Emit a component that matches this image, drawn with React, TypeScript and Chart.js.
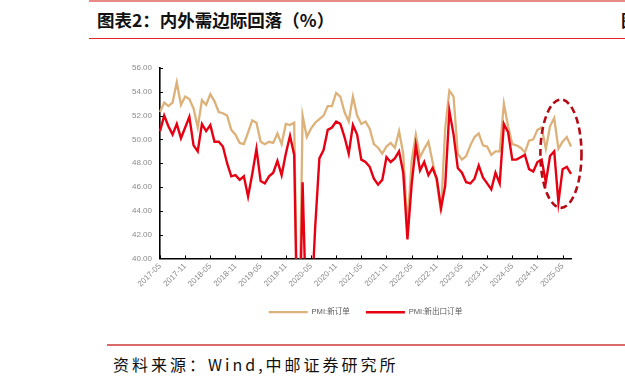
import React, { useEffect, useRef } from "react";
import { Chart, registerables } from "chart.js";

Chart.register(...registerables);

// Categories: monthly, 2017-05 .. 2025-07
const START_YEAR = 2017;
const START_MONTH = 5;
const MONTH_COUNT = 99;
const months: string[] = Array.from({ length: MONTH_COUNT }, (_, i) => {
  const m0 = START_MONTH - 1 + i;
  const y = START_YEAR + Math.floor(m0 / 12);
  const m = (m0 % 12) + 1;
  return `${y}-${m < 10 ? "0" + m : m}`;
});

// PMI: 新订单
const newOrders2017 = [52.3, 53.1, 52.8, 53.1, 54.8, 52.9, 53.6, 53.4];
const newOrders2018 = [52.6, 51.0, 53.3, 52.9, 53.8, 53.2, 52.3, 52.2, 52.0, 50.8, 50.4, 49.7];
const newOrders2019 = [49.6, 50.6, 51.6, 51.4, 49.8, 49.6, 49.8, 49.7, 50.5, 49.6, 51.3, 51.2];
const newOrders2020 = [51.4, 29.3, 52.0, 50.2, 50.9, 51.4, 51.7, 52.0, 52.8, 52.8, 53.9, 53.6];
const newOrders2021 = [52.3, 51.5, 53.6, 52.0, 51.3, 51.5, 50.9, 49.6, 49.3, 48.8, 49.4, 49.7];
const newOrders2022 = [49.3, 50.7, 48.8, 42.6, 48.2, 50.4, 48.5, 49.2, 49.8, 48.1, 46.4, 43.9];
const newOrders2023 = [50.9, 54.1, 53.6, 48.8, 48.3, 48.6, 49.5, 50.2, 50.5, 49.5, 49.4, 48.7];
const newOrders2024 = [49.0, 49.0, 53.0, 51.1, 49.6, 49.5, 49.3, 48.9, 49.9, 50.0, 50.8, 51.0];
const newOrders2025 = [49.2, 51.1, 51.8, 49.2, 49.8, 50.2, 49.4];

// PMI: 新出口订单
const exportOrders2017 = [50.7, 52.0, 51.1, 50.4, 51.3, 50.1, 51.0, 51.9];
const exportOrders2018 = [49.5, 49.0, 51.3, 50.7, 51.2, 49.8, 49.8, 49.4, 48.0, 46.9, 47.0, 46.6];
const exportOrders2019 = [46.9, 45.2, 47.1, 49.2, 46.5, 46.3, 46.9, 47.2, 48.2, 47.0, 48.8, 50.3];
const exportOrders2020 = [48.7, 28.7, 46.4, 33.5, 35.3, 42.6, 48.4, 49.1, 50.8, 51.0, 51.5, 51.3];
const exportOrders2021 = [50.2, 48.8, 51.2, 50.4, 48.3, 48.1, 47.7, 46.7, 46.2, 46.6, 48.5, 48.1];
const exportOrders2022 = [48.4, 49.0, 47.2, 41.6, 46.2, 49.5, 47.4, 48.1, 47.0, 47.6, 46.7, 44.2];
const exportOrders2023 = [46.1, 52.4, 50.4, 47.6, 47.2, 46.4, 46.3, 46.7, 47.8, 46.8, 46.3, 45.8];
const exportOrders2024 = [47.2, 46.3, 51.3, 50.6, 48.3, 48.3, 48.5, 48.7, 47.5, 47.3, 48.1, 48.3];
const exportOrders2025 = [46.4, 48.6, 49.0, 44.7, 47.5, 47.7, 47.1];

const newOrders = [
  ...newOrders2017, ...newOrders2018, ...newOrders2019, ...newOrders2020, ...newOrders2021,
  ...newOrders2022, ...newOrders2023, ...newOrders2024, ...newOrders2025,
];
const exportOrders = [
  ...exportOrders2017, ...exportOrders2018, ...exportOrders2019, ...exportOrders2020, ...exportOrders2021,
  ...exportOrders2022, ...exportOrders2023, ...exportOrders2024, ...exportOrders2025,
];

const SERIES_NAMES = ["PMI:新订单", "PMI:新出口订单"];
const Y_MIN = 40;
const Y_MAX = 56;
const Y_STEP = 2;
const LABEL_EVERY = 6;

// Highlight ellipse (in data units: category index / value)
const ELLIPSE_CENTER_INDEX = 95.6;
const ELLIPSE_HALF_MONTHS = 4.9;
const ELLIPSE_CENTER_VALUE = 48.8;
const ELLIPSE_HALF_VALUE = 4.55;

const TAN = "#DDB27A";
const RED = "#E60012";
const TICK_FONT = '"Liberation Sans", "Noto Sans CJK SC", sans-serif';

const decorPlugin = {
  id: "decor",
  afterDraw(chart: any) {
    const { ctx, chartArea } = chart;
    const xs = chart.scales.x;
    const ys = chart.scales.y;
    ctx.save();
    ctx.strokeStyle = "#000";
    ctx.lineWidth = 1;
    for (let i = 0; i < months.length; i += LABEL_EVERY) {
      const x = Math.round(xs.getPixelForValue(i)) + 0.5;
      ctx.beginPath();
      ctx.moveTo(x, chartArea.bottom);
      ctx.lineTo(x, chartArea.bottom - 3);
      ctx.stroke();
    }
    ys.ticks.forEach((t: any) => {
      const y = Math.round(ys.getPixelForValue(t.value)) + 0.5;
      ctx.beginPath();
      ctx.moveTo(chartArea.left, y);
      ctx.lineTo(chartArea.left + 3, y);
      ctx.stroke();
    });
    // dashed highlight ellipse
    const cx = xs.getPixelForValue(ELLIPSE_CENTER_INDEX);
    const rx = xs.getPixelForValue(ELLIPSE_CENTER_INDEX + ELLIPSE_HALF_MONTHS) - cx;
    const cy = ys.getPixelForValue(ELLIPSE_CENTER_VALUE);
    const ry = cy - ys.getPixelForValue(ELLIPSE_CENTER_VALUE + ELLIPSE_HALF_VALUE);
    ctx.strokeStyle = "#B40A14";
    ctx.lineWidth = 2.6;
    ctx.setLineDash([7, 4]);
    ctx.beginPath();
    ctx.ellipse(cx, cy, rx, ry, 0, 0, Math.PI * 2);
    ctx.stroke();
    ctx.restore();
  },
};

export default function App() {
  const ref = useRef<HTMLCanvasElement>(null);
  useEffect(() => {
    const chart = new Chart(ref.current as HTMLCanvasElement, {
      type: "line",
      data: {
        labels: months,
        datasets: [
          {
            label: SERIES_NAMES[0],
            data: newOrders,
            borderColor: TAN,
            backgroundColor: TAN,
            borderWidth: 2.3,
            pointRadius: 0,
            tension: 0,
            order: 1,
          },
          {
            label: SERIES_NAMES[1],
            data: exportOrders,
            borderColor: RED,
            backgroundColor: RED,
            borderWidth: 2.4,
            pointRadius: 0,
            tension: 0,
            order: 0,
          },
        ],
      },
      options: {
        responsive: false,
        animation: false,
        devicePixelRatio: 1,
        layout: { padding: { left: 0, right: 54, top: 23, bottom: 14 } },
        scales: {
          x: {
            type: "category",
            ticks: {
              autoSkip: false,
              maxRotation: 45,
              minRotation: 45,
              color: "#8a8a8a",
              font: { size: 8, family: TICK_FONT },
              padding: 3,
              callback: (_v: any, i: number) => (i % LABEL_EVERY === 0 ? months[i] : null),
            },
            grid: { display: false, drawTicks: false },
            border: { display: true, color: "#000", width: 1.6 },
            afterFit: (s: any) => {
              s.height = 34;
            },
          },
          y: {
            min: Y_MIN,
            max: Y_MAX,
            ticks: {
              stepSize: Y_STEP,
              color: "#8a8a8a",
              font: { size: 8, family: TICK_FONT },
              padding: 8,
              callback: (v: any) => Number(v).toFixed(2),
            },
            grid: { display: false, drawTicks: false },
            border: { display: true, color: "#000", width: 1.6 },
            afterFit: (s: any) => {
              s.width = 160;
            },
          },
        },
        plugins: {
          legend: {
            position: "bottom",
            fullSize: false,
            labels: {
              usePointStyle: true,
              pointStyle: "line",
              pointStyleWidth: 39,
              padding: 16,
              color: "#595959",
              font: { size: 7.6, family: TICK_FONT },
              sort: (a: any, b: any) => a.datasetIndex - b.datasetIndex,
            },
          },
          tooltip: { enabled: false },
        },
      },
      plugins: [decorPlugin],
    } as any);
    return () => chart.destroy();
  }, []);

  return (
    <div
      style={{
        position: "absolute",
        left: 0,
        top: 0,
        width: 625,
        height: 384,
        overflow: "hidden",
        background: "#fff",
        fontFamily: '"Noto Sans CJK SC", sans-serif',
      }}
    >
      <div style={{ position: "absolute", left: 89, top: 0, width: 536, height: 1.5, background: "#E88A8A" }} />
      <div
        style={{
          position: "absolute",
          left: 97,
          top: 7,
          fontSize: 17.5,
          fontWeight: 700,
          color: "#111",
          whiteSpace: "nowrap",
          lineHeight: "26px",
        }}
      >
        图表2：内外需边际回落（%）
      </div>
      <div
        style={{
          position: "absolute",
          left: 621,
          top: 7,
          fontSize: 17,
          fontWeight: 700,
          color: "#111",
          whiteSpace: "nowrap",
          lineHeight: "26px",
        }}
      >
        图
      </div>
      <div style={{ position: "absolute", left: 89, top: 37.5, width: 536, height: 1.8, background: "#E0262B" }} />
      <div style={{ position: "absolute", left: 0, top: 45, width: 625, height: 295 }}>
        <canvas ref={ref} width={625} height={295} style={{ display: "block" }} />
      </div>
      <div style={{ position: "absolute", left: 107, top: 344, width: 518, height: 1.8, background: "#D96A6A" }} />
      <div
        style={{
          position: "absolute",
          left: 113,
          top: 352,
          fontSize: 16,
          letterSpacing: 3,
          color: "#111",
          whiteSpace: "nowrap",
          lineHeight: "24px",
        }}
      >
        资料来源：Wind,中邮证券研究所
      </div>
    </div>
  );
}
